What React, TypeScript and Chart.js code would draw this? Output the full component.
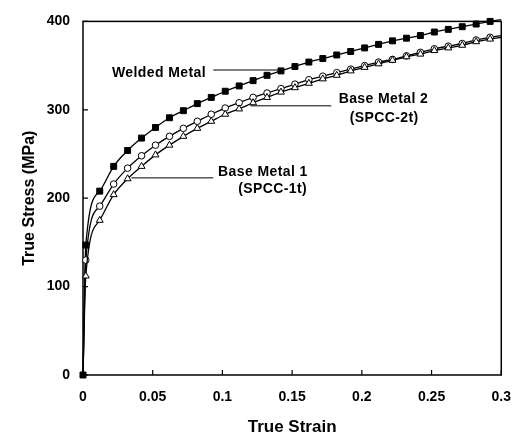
import React, { useEffect, useRef } from "react";
import { Chart, registerables } from "chart.js";

Chart.register(...registerables);

const STRAIN = [0, 0.002, 0.012, 0.022, 0.032, 0.042, 0.052, 0.062, 0.072, 0.082, 0.092, 0.102, 0.112, 0.122, 0.132, 0.142, 0.152, 0.162, 0.172, 0.182, 0.192, 0.202, 0.212, 0.222, 0.232, 0.242, 0.252, 0.262, 0.272, 0.282, 0.292, 0.3];
const WELDED = [0, 147, 208, 236, 254, 268, 280, 291, 299, 307, 314, 321, 327, 333, 339, 344, 349, 354, 358, 362, 366, 370, 374, 378, 381, 384, 388, 391, 394, 397, 400, 402];
const BASE2 = [0, 130, 191, 216, 234, 248, 260, 270, 279, 287, 295, 302, 308, 314, 319, 324, 329, 334, 338, 342, 346, 350, 354, 357, 361, 365, 369, 372, 375, 379, 382, 384];
const BASE1 = [0, 112, 175, 204, 222, 236, 249, 260, 270, 279, 287, 295, 301, 308, 314, 320, 325, 330, 335, 339, 344, 348, 352, 356, 360, 363, 367, 370, 373, 377, 380, 382];

const X_TICKS = [0, 0.05, 0.1, 0.15, 0.2, 0.25, 0.3];
const Y_TICKS = [0, 100, 200, 300, 400];

// annotation texts (data coordinates)
const LABELS = [
  { text: "Welded Metal", x: 0.0545, y: 342 },
  { text: "Base Metal 2", x: 0.2155, y: 312 },
  { text: "(SPCC-2t)", x: 0.216, y: 291 },
  { text: "Base Metal 1", x: 0.129, y: 230 },
  { text: "(SPCC-1t)", x: 0.136, y: 210 },
];
const LEADERS = [
  { x1: 0.0934, x2: 0.143, y: 345 },
  { x1: 0.12, x2: 0.178, y: 304.5 },
  { x1: 0.0347, x2: 0.0934, y: 223 },
];

const FONT = "'Liberation Sans', Arial, Helvetica, sans-serif";

const pts = (ys: number[]) => STRAIN.map((x, i) => ({ x, y: ys[i] }));
const lastIdx = STRAIN.length - 1;

const decorPlugin = {
  id: "decor",
  beforeDatasetsDraw(chart: any) {
    const { ctx, chartArea: a, scales } = chart;
    ctx.save();
    ctx.strokeStyle = "#000";
    ctx.lineWidth = 1.5;
    ctx.strokeRect(a.left, a.top, a.right - a.left, a.bottom - a.top);
    ctx.lineWidth = 1.2;
    ctx.beginPath();
    X_TICKS.forEach((v) => {
      const px = scales.x.getPixelForValue(v);
      ctx.moveTo(px, a.bottom);
      ctx.lineTo(px, a.bottom - 5);
    });
    Y_TICKS.forEach((v) => {
      const py = scales.y.getPixelForValue(v);
      ctx.moveTo(a.left, py);
      ctx.lineTo(a.left + 5, py);
    });
    ctx.stroke();
    ctx.lineWidth = 1;
    ctx.beginPath();
    LEADERS.forEach((l) => {
      const py = scales.y.getPixelForValue(l.y);
      ctx.moveTo(scales.x.getPixelForValue(l.x1), py);
      ctx.lineTo(scales.x.getPixelForValue(l.x2), py);
    });
    ctx.stroke();
    ctx.restore();
  },
  afterDraw(chart: any) {
    const { ctx, scales } = chart;
    ctx.save();
    ctx.fillStyle = "#000";
    ctx.font = `bold 14px ${FONT}`;
    (ctx as any).letterSpacing = "0.4px";
    ctx.textAlign = "center";
    ctx.textBaseline = "middle";
    LABELS.forEach((l) => {
      ctx.fillText(l.text, scales.x.getPixelForValue(l.x), scales.y.getPixelForValue(l.y));
    });
    ctx.restore();
  },
};

export default function App() {
  const ref = useRef<HTMLCanvasElement>(null);
  useEffect(() => {
    if (!ref.current) return;
    const common = {
      borderColor: "#000",
      borderWidth: 1.3,
      pointBorderColor: "#000",
      pointBorderWidth: 1,
      cubicInterpolationMode: "monotone" as const,
      clip: false as any,
      showLine: true,
    };
    const chart = new Chart(ref.current, {
      type: "line",
      data: {
        datasets: [
          {
            ...common,
            label: "Base Metal 1 (SPCC-1t)",
            data: pts(BASE1),
            pointStyle: "triangle",
            pointBackgroundColor: "#fff",
            pointRadius: (c: any) => (c.dataIndex === 0 || c.dataIndex === lastIdx ? 0 : 4),
          },
          {
            ...common,
            label: "Base Metal 2 (SPCC-2t)",
            data: pts(BASE2),
            pointStyle: "circle",
            pointBackgroundColor: "#fff",
            pointRadius: (c: any) => (c.dataIndex === 0 || c.dataIndex === lastIdx ? 0 : 3.3),
          },
          {
            ...common,
            label: "Welded Metal",
            data: pts(WELDED),
            pointStyle: "rect",
            pointBackgroundColor: "#000",
            pointRadius: (c: any) => (c.dataIndex === lastIdx ? 0 : 4.2),
          },
        ],
      },
      options: {
        animation: false,
        responsive: false,
        layout: { padding: { left: 0, top: 13, right: 18, bottom: 0 } },
        plugins: { legend: { display: false }, tooltip: { enabled: false } },
        scales: {
          x: {
            type: "linear",
            min: 0,
            max: 0.3,
            afterBuildTicks: (s: any) => {
              s.ticks = X_TICKS.map((v) => ({ value: v }));
            },
            afterFit: (s: any) => {
              s.height = 65;
            },
            grid: { display: false, drawTicks: false },
            border: { display: false },
            ticks: {
              padding: 14,
              color: "#000",
              font: { family: FONT, size: 14, weight: "bold" },
              maxRotation: 0,
              autoSkip: false,
              callback: (v: any) => String(Number(Number(v).toFixed(2))),
            },
            title: {
              display: true,
              text: "True Strain",
              color: "#000",
              font: { family: FONT, size: 17, weight: "bold" },
              padding: { top: 0, bottom: 2 },
            },
          },
          y: {
            type: "linear",
            min: 0,
            max: 400,
            afterBuildTicks: (s: any) => {
              s.ticks = Y_TICKS.map((v) => ({ value: v }));
            },
            afterFit: (s: any) => {
              s.width = 83;
            },
            grid: { display: false, drawTicks: false },
            border: { display: false },
            ticks: {
              padding: 13,
              color: "#000",
              font: { family: FONT, size: 14, weight: "bold" },
            },
            title: {
              display: true,
              text: "True Stress (MPa)",
              color: "#000",
              font: { family: FONT, size: 16, weight: "bold" },
              padding: { top: 20, bottom: 0 },
            },
          },
        },
      },
      plugins: [decorPlugin],
    } as any);
    return () => chart.destroy();
  }, []);
  return (
    <div style={{ position: "fixed", left: 0, top: 0, width: 525, height: 440, background: "#fff" }}>
      <canvas ref={ref} width={525} height={440} style={{ display: "block" }} />
    </div>
  );
}
